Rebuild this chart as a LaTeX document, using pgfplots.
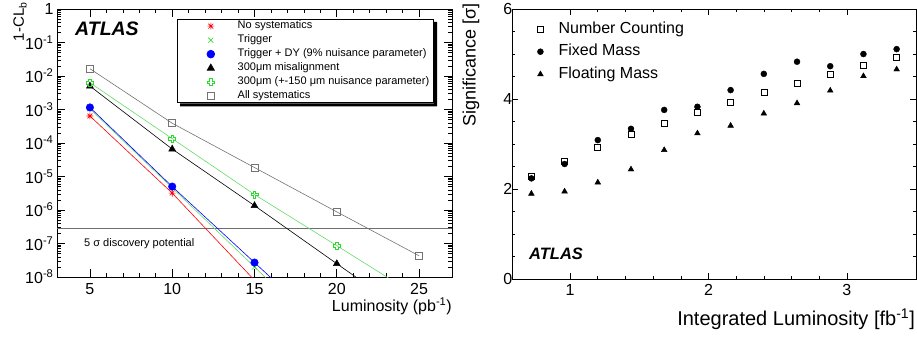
\documentclass[border=0pt]{standalone}
\usepackage{fontspec}
\setmainfont{Liberation Sans}
\usepackage{pgfplots}
\pgfplotsset{compat=1.18}

\pgfdeclareplotmark{ocross}{%
  \pgfpathmoveto{\pgfqpoint{-0.35\pgfplotmarksize}{\pgfplotmarksize}}%
  \pgfpathlineto{\pgfqpoint{0.35\pgfplotmarksize}{\pgfplotmarksize}}%
  \pgfpathlineto{\pgfqpoint{0.35\pgfplotmarksize}{0.35\pgfplotmarksize}}%
  \pgfpathlineto{\pgfqpoint{\pgfplotmarksize}{0.35\pgfplotmarksize}}%
  \pgfpathlineto{\pgfqpoint{\pgfplotmarksize}{-0.35\pgfplotmarksize}}%
  \pgfpathlineto{\pgfqpoint{0.35\pgfplotmarksize}{-0.35\pgfplotmarksize}}%
  \pgfpathlineto{\pgfqpoint{0.35\pgfplotmarksize}{-\pgfplotmarksize}}%
  \pgfpathlineto{\pgfqpoint{-0.35\pgfplotmarksize}{-\pgfplotmarksize}}%
  \pgfpathlineto{\pgfqpoint{-0.35\pgfplotmarksize}{-0.35\pgfplotmarksize}}%
  \pgfpathlineto{\pgfqpoint{-\pgfplotmarksize}{-0.35\pgfplotmarksize}}%
  \pgfpathlineto{\pgfqpoint{-\pgfplotmarksize}{0.35\pgfplotmarksize}}%
  \pgfpathlineto{\pgfqpoint{-0.35\pgfplotmarksize}{0.35\pgfplotmarksize}}%
  \pgfpathclose
  \pgfusepathqstroke}
\pgfdeclareplotmark{rstar}{%
  \pgfpathmoveto{\pgfqpoint{-\pgfplotmarksize}{0pt}}\pgfpathlineto{\pgfqpoint{\pgfplotmarksize}{0pt}}%
  \pgfpathmoveto{\pgfqpoint{0pt}{-\pgfplotmarksize}}\pgfpathlineto{\pgfqpoint{0pt}{\pgfplotmarksize}}%
  \pgfpathmoveto{\pgfqpoint{-0.7\pgfplotmarksize}{-0.7\pgfplotmarksize}}\pgfpathlineto{\pgfqpoint{0.7\pgfplotmarksize}{0.7\pgfplotmarksize}}%
  \pgfpathmoveto{\pgfqpoint{-0.7\pgfplotmarksize}{0.7\pgfplotmarksize}}\pgfpathlineto{\pgfqpoint{0.7\pgfplotmarksize}{-0.7\pgfplotmarksize}}%
  \pgfusepathqstroke}

\definecolor{rgreen}{RGB}{40,220,40}
\definecolor{lgreen}{RGB}{100,220,100}
\definecolor{sysgray}{RGB}{115,115,115}
\definecolor{refline}{RGB}{110,110,110}

\pgfplotsset{
  lmark/.style={only marks, legend image code/.code={\path (-30pt,0pt) (10pt,0pt); \draw[##1] plot coordinates {(0pt,0pt)};}},
  rmark/.style={only marks, legend image code/.code={\path (-10pt,0pt) (5pt,0pt); \draw[##1] plot coordinates {(0pt,0pt)};}},
}

\begin{document}
\begin{tikzpicture}[x=1pt,y=1pt]
\useasboundingbox (0,0) rectangle (917,338);
% ---------------- left panel ----------------
\begin{axis}[
  at={(57pt,61pt)}, anchor=south west, scale only axis,
  width=395pt, height=268pt,
  xmin=3, xmax=27, ymode=log, ymin=1e-8, ymax=1,
  xtick={5,10,15,20,25}, minor x tick num=4,
  ytick={1e-8,1e-7,1e-6,1e-5,1e-4,1e-3,1e-2,1e-1,1},
  yticklabels={10\textsuperscript{-8},10\textsuperscript{-7},10\textsuperscript{-6},10\textsuperscript{-5},10\textsuperscript{-4},10\textsuperscript{-3},10\textsuperscript{-2},10\textsuperscript{-1},1},
  /pgf/number format/assume math mode=true,
  tick label style={font=\fontsize{16}{19}\selectfont},
  xticklabel style={yshift=-2.5pt},
  major tick length=8pt, minor tick length=4pt,
  axis line style={line width=0.8pt},
  every tick/.style={black, line width=0.6pt},
  legend cell align=left,
  legend style={name=leg, at={(0.3038,0.9627)}, anchor=north west, draw=black, fill=white,
    line width=0.8pt,
    font=\fontsize{11}{13}\selectfont, inner xsep=3pt, inner ysep=0pt,
    row sep=0.5pt, column sep=15pt,
    nodes={inner sep=1.5pt, text height=8pt, text depth=2.5pt}},
]
\addplot[forget plot, refline, line width=1.3pt] coordinates {(3,2.87e-7) (27,2.87e-7)};
% lines
\addplot[forget plot, red, line width=0.6pt] coordinates {(5,6.4e-4) (10,3.2e-6) (15,8e-9)};
\addplot[forget plot, lgreen, line width=0.6pt] coordinates {(5,1.05e-3) (10,4.6e-6) (15,2e-8) (20,8.7e-11)};
\addplot[forget plot, blue, line width=0.6pt] coordinates {(5,1.15e-3) (10,5e-6) (15,2.7e-8) (20,1.45e-10)};
\addplot[forget plot, black, line width=0.6pt] coordinates {(5,5e-3) (10,6.6e-5) (15,1.35e-6) (20,2.5e-8) (25,4.7e-10)};
\addplot[forget plot, lgreen, line width=0.6pt] coordinates {(5,6.3e-3) (10,1.35e-4) (15,2.9e-6) (20,8.6e-8) (25,2.5e-9)};
\addplot[forget plot, sysgray, line width=0.6pt] coordinates {(5,1.65e-2) (10,3.9e-4) (15,1.85e-5) (20,8.8e-7) (25,4.3e-8)};
% markers
\addplot[lmark, red, mark=rstar, mark size=3.5pt, mark options={line width=0.6pt}] coordinates {(5,6.4e-4) (10,3.2e-6)};
\addlegendentry{No systematics}
\addplot[lmark, rgreen, mark=x, mark size=3.5pt, mark options={line width=0.6pt}] coordinates {(5,1.05e-3) (10,4.6e-6) (15,2e-8)};
\addlegendentry{Trigger}
\addplot[lmark, blue, mark=*, mark size=3.8pt, mark options={fill=blue}] coordinates {(5,1.15e-3) (10,5e-6) (15,2.7e-8)};
\addlegendentry{Trigger + DY (9\% nuisance parameter)}
\addplot[lmark, black, mark=triangle*, mark size=4pt, mark options={fill=black}] coordinates {(5,5e-3) (10,6.6e-5) (15,1.35e-6) (20,2.5e-8)};
\addlegendentry{300μm misalignment}
\addplot[lmark, rgreen, mark=ocross, mark size=3.5pt, mark options={line width=0.6pt}] coordinates {(5,6.3e-3) (10,1.35e-4) (15,2.9e-6) (20,8.6e-8)};
\addlegendentry{300μm (+-150 μm nuisance parameter)}
\addplot[lmark, sysgray, mark=square, mark size=3.5pt, mark options={line width=0.6pt}] coordinates {(5,1.65e-2) (10,3.9e-4) (15,1.85e-5) (20,8.8e-7) (25,4.3e-8)};
\addlegendentry{All systematics}
\end{axis}
% ROOT-style legend shadow (L-shaped strip outside the legend box)
\fill[black] ([xshift=3pt,yshift=-3pt]leg.south west) -- ([xshift=3pt,yshift=-3pt]leg.south east)
  -- ([xshift=3pt,yshift=-3pt]leg.north east) -- ([yshift=-3pt]leg.north east)
  -- (leg.south east) -- ([xshift=3pt]leg.south west) -- cycle;
% ---------------- right panel ----------------
\begin{axis}[
  at={(512pt,58.7pt)}, anchor=south west, scale only axis,
  width=404pt, height=270.3pt,
  xmin=0.58, xmax=3.5, ymin=0, ymax=6,
  xtick={1,2,3}, ytick={0,2,4,6},
  minor x tick num=4, minor y tick num=3,
  tick label style={font=\fontsize{16}{19}\selectfont},
  /pgf/number format/assume math mode=true,
  xticklabel style={yshift=-1.4pt},
  yticklabel style={xshift=3.8pt},
  major tick length=6pt, minor tick length=3pt,
  axis line style={line width=0.8pt},
  every tick/.style={black, line width=0.6pt},
  legend cell align=left,
  legend style={at={(0.04455,0.9593)}, anchor=north west, draw=none, fill=none,
    font=\fontsize{16}{19}\selectfont, inner xsep=0pt, inner ysep=0pt,
    row sep=4.5pt, column sep=12pt,
    nodes={inner sep=1pt, text height=12pt, text depth=4pt}},
]
\addplot[rmark, black, mark=square, mark size=3pt, mark options={line width=0.6pt}] coordinates {
(0.72,2.28) (0.96,2.63) (1.20,2.92) (1.44,3.21) (1.68,3.46) (1.92,3.71)
(2.16,3.93) (2.40,4.14) (2.64,4.35) (2.88,4.55) (3.12,4.74) (3.36,4.92)};
\addlegendentry{Number Counting}
\addplot[rmark, black, mark=*, mark size=3pt, mark options={fill=black}] coordinates {
(0.72,2.24) (0.96,2.56) (1.20,3.09) (1.44,3.34) (1.68,3.76) (1.92,3.83)
(2.16,4.20) (2.40,4.56) (2.64,4.83) (2.88,4.73) (3.12,5.00) (3.36,5.11)};
\addlegendentry{Fixed Mass}
\addplot[rmark, black, mark=triangle*, mark size=3.3pt, mark options={fill=black}] coordinates {
(0.72,1.90) (0.96,1.95) (1.20,2.15) (1.44,2.44) (1.68,2.87) (1.92,3.24)
(2.16,3.41) (2.40,3.68) (2.64,3.91) (2.88,4.19) (3.12,4.51) (3.36,4.66)};
\addlegendentry{Floating Mass}
\end{axis}
% ---------------- texts ----------------
\node[rotate=90, anchor=east, inner sep=0pt, font=\fontsize{15}{18}\selectfont] at (20,336) {1-CL\textsubscript{b}};
\node[anchor=base east, inner sep=0pt, font=\fontsize{16}{19}\selectfont] at (452,26.3) {Luminosity (pb\textsuperscript{-1})};
\node[anchor=base west, inner sep=0pt, font=\fontsize{19.5}{22}\selectfont\bfseries\itshape] at (75,302.3) {ATLAS};
\node[anchor=west, inner sep=0pt, font=\fontsize{11}{13}\selectfont] at (84,94) {5 σ discovery potential};
\node[rotate=90, anchor=east, inner sep=0pt, font=\fontsize{18}{21}\selectfont] at (471,335) {Significance [σ]};
\node[anchor=base east, inner sep=0pt, font=\fontsize{20}{24}\selectfont] at (915,12.3) {Integrated Luminosity [fb\textsuperscript{-1}]};
\node[anchor=base west, inner sep=0pt, font=\fontsize{16.5}{19}\selectfont\bfseries\itshape] at (529,79) {ATLAS};
\end{tikzpicture}
\end{document}
